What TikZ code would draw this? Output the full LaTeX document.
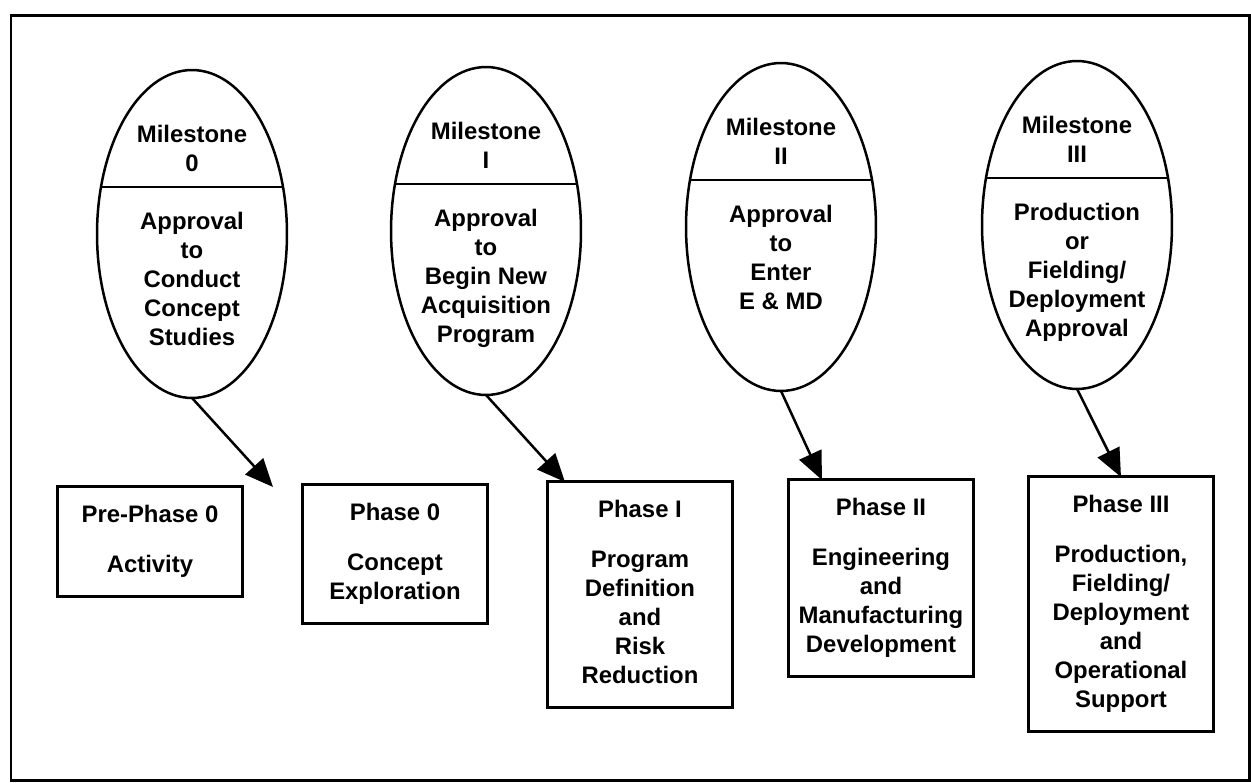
\documentclass[tikz,border=0pt]{standalone}
\usepackage{fontspec}
\setmainfont{Liberation Sans}
\usetikzlibrary{arrows.meta,shapes.geometric}

\begin{document}
\begin{tikzpicture}[
  x=0.02cm, y=-0.02cm,
  every node/.style={inner sep=0pt, outer sep=0pt,
                     font=\fontsize{13.6pt}{16.5pt}\selectfont\bfseries},
  milestone/.style={ellipse, draw, line width=0.05cm,
                    minimum width=3.8cm, minimum height=6.56cm,
                    path picture={\draw[line width=0.05cm]
                      ([yshift=0.94cm]path picture bounding box.center)
                      +(-120,0) -- +(120,0);}},
  mtext/.style={anchor=north, align=center},
  phase/.style={draw, line width=0.06cm, minimum width=3.72cm,
                inner ysep=0.31cm, anchor=north west, align=center},
  flow/.style={-{Triangle[length=0.56cm,width=0.48cm]}, line width=0.05cm},
]
\useasboundingbox (0,0) rectangle (1251,783);

% ---------------------------------------------------------------- frame
\draw[line width=0.06cm] (11,16) rectangle (1249,780);

% ---------------------------------------------------------------- milestones
\node[milestone] (ms0) at (192,234) {};
\node[mtext] (ms0h) at ([yshift=2.24cm]ms0.center) {\strut Milestone\\0};
\node[mtext] (ms0t) at ([yshift=0.5cm]ms0.center)
  {\strut Approval\\to\\Conduct\\Concept\\Studies};

\node[milestone] (ms1) at (486,231) {};
\node[mtext] (ms1h) at ([yshift=2.24cm]ms1.center) {\strut Milestone\\I};
\node[mtext] (ms1t) at ([yshift=0.5cm]ms1.center)
  {\strut Approval\\to\\Begin New\\Acquisition\\Program};

\node[milestone] (ms2) at (781,227) {};
\node[mtext] (ms2h) at ([yshift=2.24cm]ms2.center) {\strut Milestone\\II};
\node[mtext] (ms2t) at ([yshift=0.5cm]ms2.center)
  {\strut Approval\\to\\Enter\\E \& MD};

\node[milestone] (ms3) at (1077,225) {};
\node[mtext] (ms3h) at ([yshift=2.24cm]ms3.center) {\strut Milestone\\III};
\node[mtext] (ms3t) at ([yshift=0.5cm]ms3.center)
  {\strut Production\\or\\Fielding/\\Deployment\\Approval};

% ---------------------------------------------------------------- phases
\node[phase] (ph0) at (57,487)
  {\strut Pre-Phase 0\\[0.42cm]Activity\strut};
\node[phase] (ph1) at (302,485)
  {\strut Phase 0\\[0.42cm]Concept\\Exploration\strut};
\node[phase] (ph2) at (547,482)
  {\strut Phase I\\[0.42cm]Program\\Definition\\and\\Risk\\Reduction\strut};
\node[phase] (ph3) at (788,480)
  {\strut Phase II\\[0.42cm]Engineering\\and\\Manufacturing\\Development\strut};
\node[phase] (ph4) at (1028,477)
  {\strut Phase III\\[0.42cm]Production,\\Fielding/\\Deployment\\and\\Operational\\Support\strut};

% ---------------------------------------------------------------- flow
\coordinate (gap0) at (273,487);

\draw[flow] (ms0.south) -- (gap0);
\draw[flow] (ms1.south) -- ([xshift=0.36cm]ph2.north west);
\draw[flow] (ms2.south) -- ([xshift=0.68cm]ph3.north west);
\draw[flow] (ms3.south) -- (ph4.north);

\end{tikzpicture}
\end{document}
